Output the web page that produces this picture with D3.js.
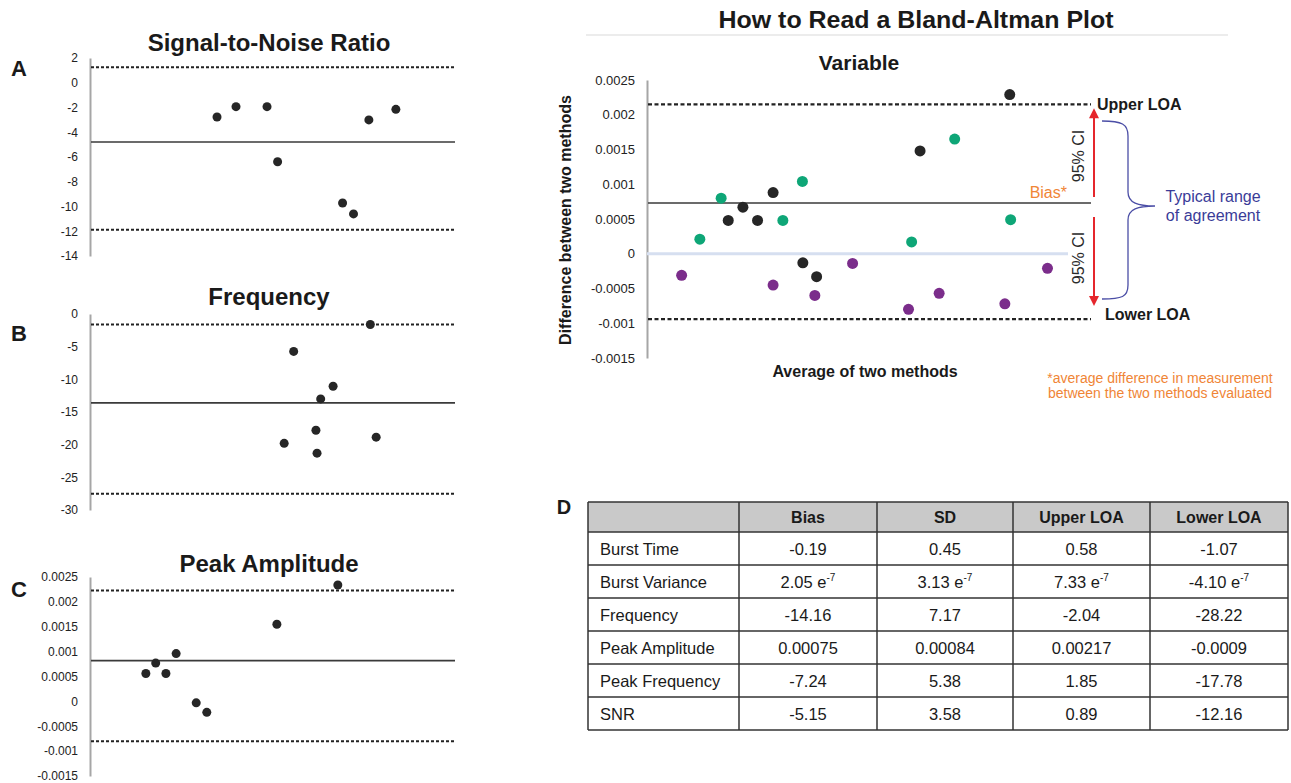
<!DOCTYPE html>
<html>
<head>
<meta charset="utf-8">
<script src="https://cdn.jsdelivr.net/npm/d3@7"></script>
<style>
  body { margin: 0; background: #fff; }
  svg { display: block; font-family: "Liberation Sans", Arial, sans-serif; }
</style>
</head>
<body>
<svg width="1291" height="783"></svg>
<script>
// ---- data ----
// x positions are relative (the figure has no x tick labels), 0..100
const snrX = [34.8, 40.0, 48.5, 51.4, 69.2, 72.2, 76.4, 83.8];
const snrY = [-2.77, -1.93, -1.93, -6.38, -9.72, -10.6, -3.0, -2.15];
const snrLines = [1.25, -4.79, -11.87];          // upper LOA, bias, lower LOA
const snrTicks = [2, 0, -2, -4, -6, -8, -10, -12, -14];

const freqX = [76.8, 55.8, 66.6, 63.2, 61.9, 53.2, 62.2, 78.4];
const freqY = [-1.6, -5.73, -11.05, -13.0, -17.8, -19.8, -21.3, -18.85];
const freqLines = [-1.6, -13.6, -27.5];
const freqTicks = [0, -5, -10, -15, -20, -25, -30];

const ampX = [15.3, 18.0, 20.8, 23.6, 29.1, 32.0, 51.2, 67.9];
const ampY = [0.00056, 0.00077, 0.00056, 0.00096, -0.00003, -0.00022, 0.00155, 0.00234];
const ampLines = [0.00223, 0.00082, -0.00080];
const ampTicks = [0.0025, 0.002, 0.0015, 0.001, 0.0005, 0, -0.0005, -0.001, -0.0015];

const blackX = [18.3, 21.6, 24.9, 28.4, 35.1, 38.2, 61.5, 81.7];
const blackY = [0.00048, 0.00067, 0.00048, 0.00088, -0.00013, -0.00033, 0.00148, 0.00229];
const greenX = [11.9, 16.7, 30.6, 35.0, 59.6, 69.3, 81.9];
const greenY = [0.00021, 0.00080, 0.00048, 0.00104, 0.00017, 0.00165, 0.00049];
const purpleX = [7.8, 28.4, 37.8, 46.3, 58.9, 65.8, 80.6, 90.2];
const purpleY = [-0.00031, -0.00045, -0.00060, -0.00014, -0.00080, -0.00057, -0.00072, -0.00021];
const varLines = [0.00215, 0.00073, -0.00094];
const varTicks = [0.0025, 0.002, 0.0015, 0.001, 0.0005, 0, -0.0005, -0.001, -0.0015];

const tableCols = ['', 'Bias', 'SD', 'Upper LOA', 'Lower LOA'];
const tableRows = ['Burst Time', 'Burst Variance', 'Frequency', 'Peak Amplitude', 'Peak Frequency', 'SNR'];
const biasCol = ['-0.19', '2.05 e|-7', '-14.16', '0.00075', '-7.24', '-5.15'];
const sdCol = ['0.45', '3.13 e|-7', '7.17', '0.00084', '5.38', '3.58'];
const upperCol = ['0.58', '7.33 e|-7', '-2.04', '0.00217', '1.85', '0.89'];
const lowerCol = ['-1.07', '-4.10 e|-7', '-28.22', '-0.0009', '-17.78', '-12.16'];

const svg = d3.select('svg');

const drawPanel = (p) => {
  const x = d3.scaleLinear().domain([0, 100]).range([p.left, p.right]);
  const y = d3.scaleLinear()
    .domain([p.ticks[0], p.ticks[p.ticks.length - 1]])
    .range([p.top, p.bottom]);
  const g = svg.append('g');

  const axis = g.append('g')
    .attr('transform', `translate(${p.left},0)`)
    .call(d3.axisLeft(y).tickValues(p.ticks).tickFormat(d => String(+d.toFixed(4)))
      .tickSize(0).tickPadding(p.pad))
    .attr('font-family', null)
    .attr('font-size', p.tickSize);
  axis.select('.domain').attr('stroke', '#a6a6a6').attr('stroke-width', 2);
  axis.selectAll('text').attr('fill', '#222');

  if (p.zero) {
    g.append('line')
      .attr('x1', x(0)).attr('x2', p.zeroEnd)
      .attr('y1', y(0)).attr('y2', y(0))
      .attr('stroke', '#d6dff0').attr('stroke-width', 3);
  }

  g.selectAll('.ref')
    .data(p.lines)
    .enter()
    .append('line')
    .attr('class', 'ref')
    .attr('x1', x(0) + 1).attr('x2', x(100))
    .attr('y1', d => y(d)).attr('y2', d => y(d))
    .attr('stroke', (d, i) => i === 1 ? '#3a3a3a' : '#222')
    .attr('stroke-width', (d, i) => i === 1 ? 1.6 : p.dashWidth)
    .attr('stroke-dasharray', (d, i) => i === 1 ? null : p.dash);

  p.series.forEach(s => {
    g.selectAll(null)
      .data(s.xs)
      .enter()
      .append('circle')
      .attr('cx', d => x(d))
      .attr('cy', (d, i) => y(s.ys[i]))
      .attr('r', p.r)
      .attr('fill', s.color);
  });

  g.append('text')
    .attr('x', p.titleX).attr('y', p.titleY)
    .attr('text-anchor', 'middle')
    .attr('font-weight', 'bold')
    .attr('font-size', p.titleSize)
    .attr('fill', '#1a1a1a')
    .text(p.title);

  if (p.letter) {
    g.append('text')
      .attr('x', 19).attr('y', p.letterY)
      .attr('text-anchor', 'middle')
      .attr('font-weight', 'bold')
      .attr('font-size', 22)
      .attr('fill', '#1a1a1a')
      .text(p.letter);
  }
  return { x, y, g };
};

drawPanel({
  left: 90, right: 455, top: 58, bottom: 256, ticks: snrTicks, pad: 12, tickSize: 12,
  lines: snrLines, dash: '3,2', dashWidth: 2, r: 4.5,
  series: [{ xs: snrX, ys: snrY, color: '#262626' }],
  title: 'Signal-to-Noise Ratio', titleX: 269, titleY: 51, titleSize: 24,
  letter: 'A', letterY: 76
});

drawPanel({
  left: 90, right: 455, top: 314, bottom: 510, ticks: freqTicks, pad: 12, tickSize: 12,
  lines: freqLines, dash: '3,2', dashWidth: 2, r: 4.5,
  series: [{ xs: freqX, ys: freqY, color: '#262626' }],
  title: 'Frequency', titleX: 269, titleY: 305, titleSize: 24,
  letter: 'B', letterY: 341
});

drawPanel({
  left: 90, right: 455, top: 577, bottom: 776, ticks: ampTicks, pad: 12, tickSize: 12,
  lines: ampLines, dash: '3,2', dashWidth: 2, r: 4.5,
  series: [{ xs: ampX, ys: ampY, color: '#262626' }],
  title: 'Peak Amplitude', titleX: 269, titleY: 572, titleSize: 24,
  letter: 'C', letterY: 597
});

// ---- "How to read" panel ----
svg.append('text')
  .attr('x', 916).attr('y', 28)
  .attr('text-anchor', 'middle')
  .attr('font-weight', 'bold')
  .attr('font-size', 23)
  .attr('textLength', 395).attr('lengthAdjust', 'spacingAndGlyphs')
  .attr('fill', '#1a1a1a')
  .text('How to Read a Bland-Altman Plot');
svg.append('line')
  .attr('x1', 586).attr('x2', 1228).attr('y1', 35).attr('y2', 35)
  .attr('stroke', '#e6e6e6').attr('stroke-width', 1.5);

const va = drawPanel({
  left: 647, right: 1091, top: 80, bottom: 358, ticks: varTicks, pad: 12, tickSize: 13,
  lines: varLines, dash: '4,2.5', dashWidth: 2.4, r: 5.5, zero: true, zeroEnd: 1068,
  series: [
    { xs: blackX, ys: blackY, color: '#262626' },
    { xs: greenX, ys: greenY, color: '#0ea677' },
    { xs: purpleX, ys: purpleY, color: '#7b2d8b' }
  ],
  title: 'Variable', titleX: 859, titleY: 70, titleSize: 21
});

svg.append('text')
  .attr('transform', 'translate(571,220) rotate(-90)')
  .attr('text-anchor', 'middle')
  .attr('font-weight', 'bold').attr('font-size', 16).attr('fill', '#1a1a1a')
  .text('Difference between two methods');
svg.append('text')
  .attr('x', 865).attr('y', 377)
  .attr('text-anchor', 'middle')
  .attr('font-weight', 'bold').attr('font-size', 16).attr('fill', '#1a1a1a')
  .text('Average of two methods');

const vy = va.y;
const ann = svg.append('g');
ann.append('text').attr('x', 1097).attr('y', vy(varLines[0]) + 6)
  .attr('font-weight', 'bold').attr('font-size', 16).attr('fill', '#1a1a1a').text('Upper LOA');
ann.append('text').attr('x', 1105).attr('y', vy(varLines[2]) + 1)
  .attr('font-weight', 'bold').attr('font-size', 16).attr('fill', '#1a1a1a').text('Lower LOA');
ann.append('text').attr('x', 1067).attr('y', vy(varLines[1]) - 5)
  .attr('text-anchor', 'end').attr('font-size', 16).attr('fill', '#f08536').text('Bias*');

// red double arrow
const ax = 1094;
const red = '#e5262c';
ann.append('line').attr('x1', ax).attr('x2', ax)
  .attr('y1', vy(varLines[0]) + 10).attr('y2', vy(varLines[1]) - 6)
  .attr('stroke', red).attr('stroke-width', 2);
ann.append('line').attr('x1', ax).attr('x2', ax)
  .attr('y1', vy(varLines[1]) + 14).attr('y2', vy(varLines[2]) - 20)
  .attr('stroke', red).attr('stroke-width', 2);
const upTip = vy(varLines[0]) + 4;
const downTip = vy(varLines[2]) - 13;
ann.append('path').attr('fill', red)
  .attr('d', `M${ax},${upTip} L${ax - 5},${upTip + 10} L${ax + 5},${upTip + 10} Z`);
ann.append('path').attr('fill', red)
  .attr('d', `M${ax},${downTip} L${ax - 5},${downTip - 10} L${ax + 5},${downTip - 10} Z`);

ann.selectAll('.ci')
  .data([156, 258])
  .enter()
  .append('text')
  .attr('transform', d => `translate(1084,${d}) rotate(-90)`)
  .attr('text-anchor', 'middle')
  .attr('font-size', 16).attr('fill', '#2a2a2a')
  .text('95% CI');

// brace
ann.append('path')
  .attr('fill', 'none').attr('stroke', '#4b4ea6').attr('stroke-width', 1.3)
  .attr('d', 'M1102,121 C1122,121 1128,124 1128,136 L1128,192 C1128,203 1138,206 1155,206 ' +
    'C1138,206 1128,209 1128,220 L1128,285 C1128,297 1122,299 1102,299');
ann.selectAll('.agree')
  .data(['Typical range', 'of agreement'])
  .enter()
  .append('text')
  .attr('x', 1213).attr('y', (d, i) => 202 + i * 19)
  .attr('text-anchor', 'middle')
  .attr('font-size', 16).attr('fill', '#3a3c98')
  .text(d => d);
ann.selectAll('.note')
  .data(['*average difference in measurement', 'between the two methods evaluated'])
  .enter()
  .append('text')
  .attr('x', 1160).attr('y', (d, i) => 383 + i * 15)
  .attr('text-anchor', 'middle')
  .attr('font-size', 14).attr('fill', '#f08536')
  .text(d => d);

// ---- table D ----
svg.append('text').attr('x', 564).attr('y', 514)
  .attr('text-anchor', 'middle').attr('font-weight', 'bold').attr('font-size', 20)
  .attr('fill', '#1a1a1a').text('D');

const colEdges = [588, 739, 877, 1013, 1150, 1288];
const rowEdges = [502, 532, 565, 598, 631, 664, 697, 730];
const cells = tableRows.map((r, i) => [r, biasCol[i], sdCol[i], upperCol[i], lowerCol[i]]);
const tg = svg.append('g');
tg.append('rect')
  .attr('x', colEdges[0]).attr('y', rowEdges[0])
  .attr('width', colEdges[5] - colEdges[0]).attr('height', rowEdges[1] - rowEdges[0])
  .attr('fill', '#c9c9c9');
rowEdges.forEach(ry => {
  tg.append('line').attr('x1', colEdges[0]).attr('x2', colEdges[5])
    .attr('y1', ry).attr('y2', ry).attr('stroke', '#333').attr('stroke-width', 1.5);
});
colEdges.forEach(cx => {
  tg.append('line').attr('x1', cx).attr('x2', cx)
    .attr('y1', rowEdges[0]).attr('y2', rowEdges[rowEdges.length - 1])
    .attr('stroke', '#333').attr('stroke-width', 1.5);
});
tableCols.forEach((c, j) => {
  tg.append('text')
    .attr('x', (colEdges[j] + colEdges[j + 1]) / 2)
    .attr('y', (rowEdges[0] + rowEdges[1]) / 2 + 6)
    .attr('text-anchor', 'middle').attr('font-weight', 'bold').attr('font-size', 16)
    .attr('fill', '#1a1a1a').text(c);
});
cells.forEach((row, i) => {
  row.forEach((v, j) => {
    const t = tg.append('text')
      .attr('x', j === 0 ? colEdges[0] + 12 : (colEdges[j] + colEdges[j + 1]) / 2)
      .attr('y', (rowEdges[i + 1] + rowEdges[i + 2]) / 2 + 6)
      .attr('text-anchor', j === 0 ? 'start' : 'middle')
      .attr('font-size', 16.5).attr('fill', '#1a1a1a');
    const parts = v.split('|');
    t.append('tspan').text(parts[0]);
    if (parts[1]) {
      t.append('tspan').attr('dy', -7).attr('font-size', 10).text(parts[1]);
    }
  });
});
</script>
</body>
</html>
